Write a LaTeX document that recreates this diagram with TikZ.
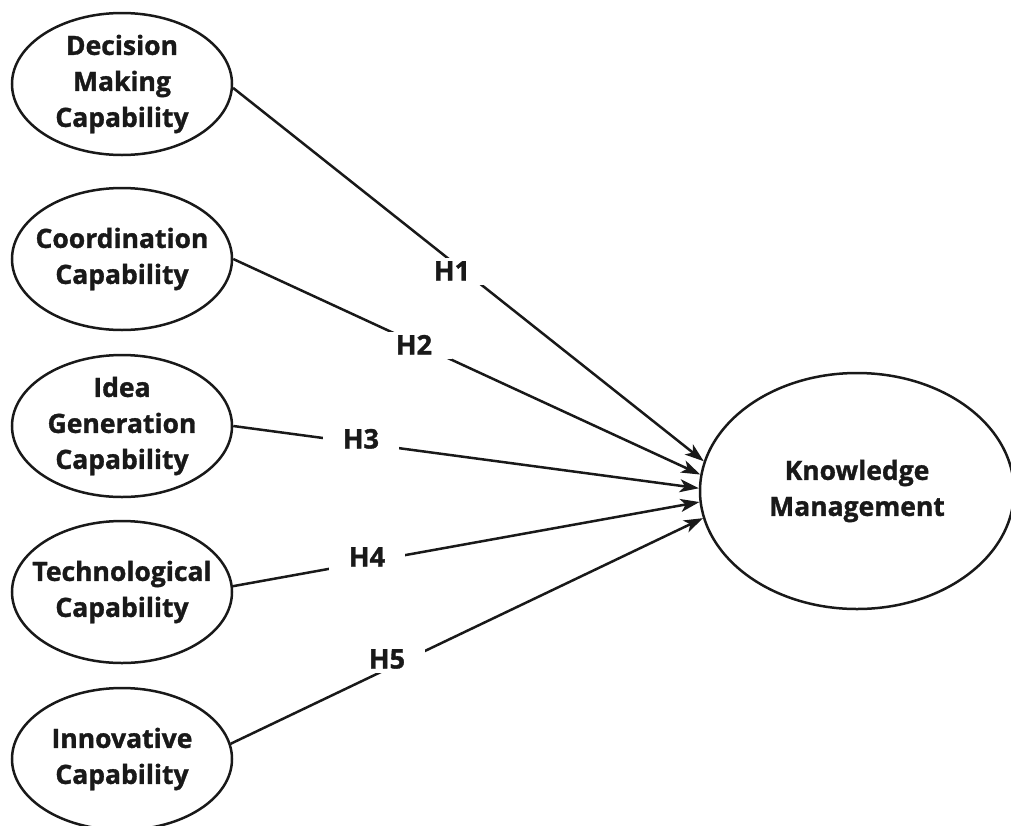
\documentclass[tikz,border=0pt]{standalone}
\usepackage{fontspec}
\setmainfont[BoldFeatures={FakeBold=1.2}]{Open Sans}
\usetikzlibrary{shapes.geometric,arrows.meta}

\tikzset{
  construct/.style={ellipse, draw=black!90, line width=2.5pt, inner sep=0pt,
    minimum width=220pt, minimum height=142pt},
  outcome/.style={construct, minimum width=314pt, minimum height=236pt},
  caption/.style={align=center, inner sep=0pt, text=black!90,
    font=\bfseries\fontsize{26.5}{36}\selectfont},
  path link/.style={line width=2.5pt, draw=black!90,
    -{Stealth[length=19pt,width=13pt,inset=5pt]}},
  hyp/.style={fill=white, inner xsep=20pt, inner ysep=4pt,
    text height=19pt, text depth=0pt, text=black!90,
    font=\bfseries\fontsize{27}{30}\selectfont},
}

\begin{document}
\begin{tikzpicture}[x=1pt, y=-1pt]
  \useasboundingbox (0,0) rectangle (1011,825);

  % antecedent constructs
  \node[construct] (dm) at (122,84)  {};
  \node[construct] (co) at (122,259) {};
  \node[construct] (ig) at (122,426) {};
  \node[construct] (te) at (122,592) {};
  \node[construct] (in) at (122,759) {};
  \node[caption] (dmt) at (dm.center) {Decision\\Making\\Capability};
  \node[caption] (cot) at (co.center) {Coordination\\Capability};
  \node[caption] (igt) at (ig.center) {Idea\\Generation\\Capability};
  \node[caption] (tet) at (te.center) {Technological\\Capability};
  \node[caption] (int) at (in.center) {Innovative\\Capability};

  % outcome construct
  \node[outcome] (km) at (857,491) {};
  \node[caption] (kmt) at (km.center) {Knowledge\\Management};

  % hypothesised paths
  \draw[path link] (dm.-2) -- (km.169.6);
  \draw[path link] (co.east) -- (km.174.5);
  \draw[path link] (ig.east) -- (km.179);
  \draw[path link] (te.3) -- (km.184);
  \draw[path link] (in.8) -- (km.190.4);

  % hypothesis labels, masking the paths behind them
  \node[hyp] (h1) at (452,271) {H1};
  \node[hyp] (h2) at (414,345) {H2};
  \node[hyp] (h3) at (361,439) {H3};
  \node[hyp] (h4) at (367,557) {H4};
  \node[hyp] (h5) at (387,659) {H5};
\end{tikzpicture}
\end{document}
